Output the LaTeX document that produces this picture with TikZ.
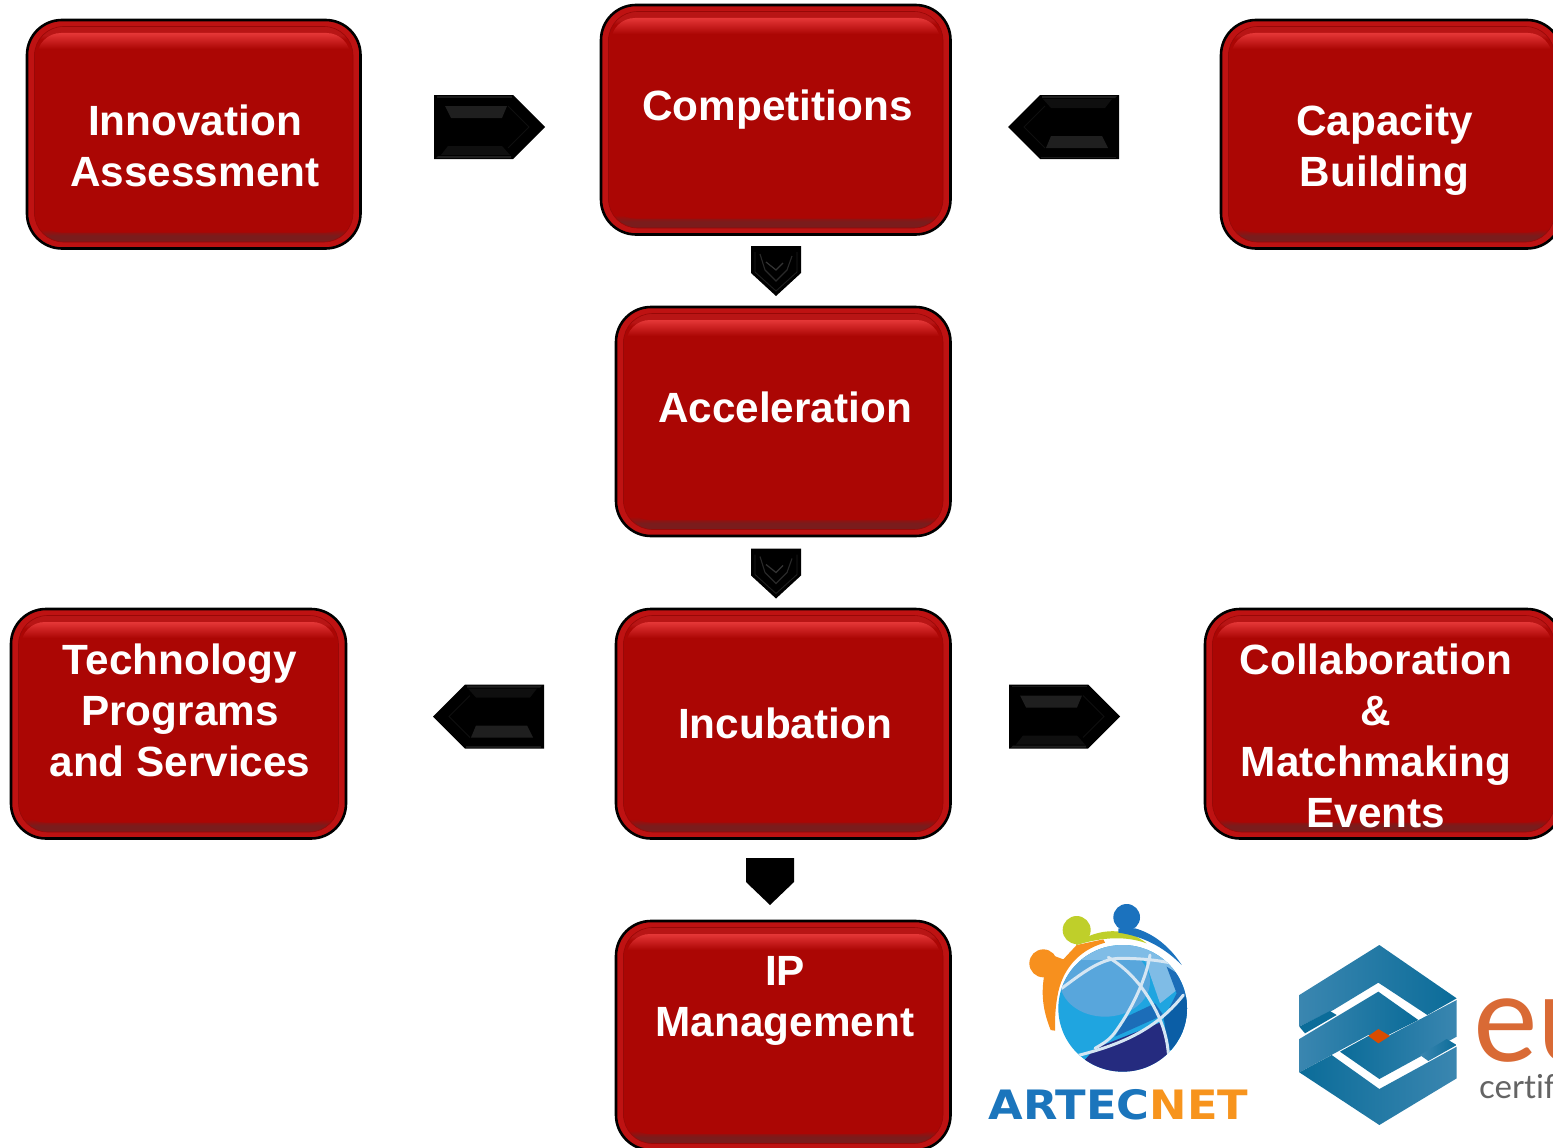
\documentclass[tikz,border=0pt]{standalone}
\usepackage{fontspec}
\setmainfont{Liberation Sans}
\newfontfamily\logofont[Ligatures=NoCommon]{Lato}
\newfontfamily\wideboldfont{DejaVu Sans}
\usetikzlibrary{calc}
\definecolor{bfill}{HTML}{AB0604}
\definecolor{bring}{HTML}{BE1212}
\definecolor{bedge}{HTML}{970807}
\definecolor{bdark}{HTML}{7A1C1C}
\definecolor{bhi}{HTML}{E53737}
\definecolor{bhib}{HTML}{C81E1E}
\definecolor{btop}{HTML}{B81515}
\definecolor{globecyan}{HTML}{1FA5E0}
\definecolor{globesky}{HTML}{58A6DC}
\definecolor{globepale}{HTML}{7FBCE6}
\definecolor{globeblue}{HTML}{1C6DB8}
\definecolor{globedeep}{HTML}{0B5EA6}
\definecolor{globenavy}{HTML}{252B7F}
\definecolor{globeray}{HTML}{D5E6F3}
\definecolor{logoorange}{HTML}{F7901E}
\definecolor{logogreen}{HTML}{BFCF2A}
\definecolor{logoblue}{HTML}{1B72BE}
\pgfdeclareverticalshading{bevelbase}{100bp}{color(0bp)=(bdark);color(25bp)=(bdark);color(26.5bp)=(bdark);color(28bp)=(bfill);color(72bp)=(bfill);color(73bp)=(btop);color(75bp)=(btop);color(100bp)=(btop)}
\pgfdeclareverticalshading{bevelface}{100bp}{color(0bp)=(bfill);color(71bp)=(bfill);color(73bp)=(bhib);color(75bp)=(bhi);color(100bp)=(bhi)}
\tikzset{
  boxouter/.style={draw=black,line width=2.6pt,fill=bring,rounded corners=35pt},
  boxinner/.style={draw=bedge,line width=.6pt,shading=bevelbase,rounded corners=29pt},
  boxface/.style={draw=none,shading=bevelface,rounded corners=24pt},
  boxlabel/.style={text=white,font=\fontsize{42.3}{51}\selectfont\bfseries,align=center,inner sep=0pt,anchor=north},
  facet/.style={fill=#1,draw=none},
  hexpiece/.style={draw=none},
  ray/.style={draw=globeray,line width=3pt,line cap=round}
}
\newcommand{\redbox}[4]{%
  \draw[boxouter] (#1,#2) rectangle (#3,#4);
  \draw[boxinner] ($(#1,#2)+(7.5,6.5)$) rectangle ($(#3,#4)+(-7.5,-6.5)$);
  \path[boxface] ($(#1,#2)+(10,13)$) rectangle ($(#3,#4)+(-10,-16)$);
}
% \boxtext{name}{centre x}{first baseline y}{text}
\newcommand{\boxtext}[4]{%
  \pgfmathsetmacro{\toplabel}{#3-32}
  \node[boxlabel] (#1) at (#2,\toplabel) {\rule{0pt}{32pt}#4};
}
\newcommand{\blockarrow}[3]{%
  \begin{scope}[shift={(#1,#2)},rotate=#3]
    \fill[black] (0,-32) -- (79,-32) -- (111,0) -- (79,32) -- (0,32) -- cycle;
    \fill[facet=black!88!white] (11,-21) -- (73,-21) -- (68,-9) -- (17,-9) -- cycle;
    \fill[facet=black!90!white] (3,-31) -- (78,-31) -- (78,-29.5) -- (3,-29.5) -- cycle;
    \fill[facet=black!94!white] (14,19) -- (68,19) -- (76,28) -- (7,28) -- cycle;
    \fill[facet=black!88!white] (4,29) -- (77,29) -- (77,31) -- (2,31) -- cycle;
    \draw[black!94!white,line width=.8pt] (74,-21) -- (95,0) -- (74,21);
  \end{scope}
}
\newcommand{\downarrowbevel}[2]{%
  \begin{scope}[shift={(#1,#2)}]
    \fill[black] (0,0) -- (50,0) -- (50,27) -- (25,50) -- (0,27) -- cycle;
    \draw[black!88!white,line width=.9pt] (4,6) -- (4,26) -- (25,45) -- (46,26) -- (46,6);
    \draw[black!84!white,line width=1.1pt] (9,8) -- (14,24) -- (25,35) -- (36,24) -- (41,10);
    \draw[black!80!white,line width=1.2pt] (15,16) -- (25,24) -- (32,17);
  \end{scope}
}
\begin{document}
\begin{tikzpicture}[x=1pt,y=-1pt]
\useasboundingbox (0,0) rectangle (1553,1148);
\clip (0,0) rectangle (1553,1148);
\fill[white] (0,0) rectangle (1553,1148);

% boxes
\redbox{27}{20}{360.5}{248.5}
\redbox{601}{5}{950.5}{234.5}
\redbox{1221}{20}{1562}{248.5}
\redbox{616}{307}{950.5}{536}
\redbox{11}{609}{346}{838.5}
\redbox{616}{609}{950.5}{838.5}
\redbox{1205}{609}{1562}{838.5}
\redbox{616}{921}{950.5}{1150}

% labels
\boxtext{innovation}{195}{135}{Innovation\\Assessment}
\boxtext{competitions}{777.5}{120}{Competitions}
\boxtext{capacity}{1384.5}{135}{Capacity\\Building}
\boxtext{acceleration}{785}{422}{Acceleration}
\boxtext{technology}{180}{674}{Technology\\Programs\\and Services}
\boxtext{incubation}{785}{738}{Incubation}
\boxtext{collaboration}{1376}{674}{Collaboration\\\&\\Matchmaking\\Events}
\boxtext{ipmgmt}{785}{985}{IP\\Management}

% arrows
\blockarrow{434}{127}{0}
\blockarrow{1119}{127}{180}
\blockarrow{1009}{716.5}{0}
\blockarrow{544}{716.5}{180}
\downarrowbevel{751}{246}
\downarrowbevel{751}{548.5}
\fill[black] (746,858) -- (794,858) -- (794,882) -- (770,905) -- (746,882) -- cycle;

% ARTECNET logo
\begin{scope}[shift={(1020,900)},x=.33333pt,y=-.33333pt]
  \fill[logoorange] (70,190) circle[radius=42];
  \fill[logoorange] (95,165) -- (130,178) -- (170,135) -- (250,118) -- (255,128) .. controls (175,150) and (125,210) .. (112,290) .. controls (105,330) and (105,360) .. (105,392) -- (92,390) .. controls (72,340) and (62,290) .. (72,230) -- cycle;
  \fill[logogreen] (170,90) circle[radius=42];
  \fill[logogreen] (160,125) -- (215,105) .. controls (270,85) and (330,90) .. (380,130) .. controls (320,108) and (250,110) .. (170,135) -- cycle;
  \fill[logoblue] (320,52) circle[radius=40];
  \fill[logoblue] (295,85) -- (345,85) .. controls (400,100) and (450,140) .. (485,195) .. controls (440,150) and (380,110) .. (295,98) -- cycle;
  \begin{scope}
    \clip (308,325) ellipse[x radius=193,y radius=190];
    \fill[globecyan] (100,120) rectangle (520,530);
    \fill[globesky] (255,245) ellipse[x radius=135,y radius=105];
    \fill[globepale] (150,130) rectangle (470,180);
    \fill[globepale] (375,180) -- (470,190) -- (470,270) -- (420,310) -- cycle;
    \fill[globeblue] (440,200) -- (520,250) -- (520,450) -- (430,360) -- (470,280) -- cycle;
    \fill[globedeep] (430,345) -- (520,270) -- (520,450) -- (445,450) -- cycle;
    \fill[globeblue] (285,410) -- (320,350) -- (405,310) -- (430,345) -- cycle;
    \fill[globenavy] (190,485) -- (225,445) -- (420,368) -- (445,440) -- (430,530) -- (200,530) -- cycle;
    \draw[ray] (125,265) .. controls (180,225) and (240,175) .. (300,175) .. controls (360,175) and (420,180) .. (480,195);
    \draw[ray] (265,172) .. controls (320,205) and (360,250) .. (390,300) .. controls (420,350) and (440,400) .. (445,460);
    \draw[ray] (390,165) .. controls (380,230) and (340,320) .. (290,390) .. controls (270,420) and (250,430) .. (225,445);
    \draw[ray] (160,470) .. controls (280,440) and (400,400) .. (490,285);
  \end{scope}
\end{scope}
\node[inner sep=0pt,anchor=base] (artecnet) at (1118.5,1119) {\scalebox{1.105}[1]{\wideboldfont\bfseries\fontsize{40.5}{44}\selectfont\textcolor[HTML]{1B75BC}{ARTEC}\textcolor[HTML]{F7941D}{NET}}};

% eurocert logo
\begin{scope}[shift={(1290,935)},x=.33333pt,y=-.33333pt]
  \definecolor{hexdark}{HTML}{0B6C99}
  \definecolor{hexlight}{HTML}{3A86B0}
  \path[hexpiece,left color=hexlight,right color=hexdark] (268,30) -- (500,190) -- (412,240) -- (265,143) -- (130,225) -- (28,275) -- (28,180) -- cycle;
  \fill[hexdark] (28,275) -- (120,228) -- (140,240) -- (45,295) -- cycle;
  \path[hexpiece,left color=hexlight,right color=hexdark] (28,312) -- (265,170) -- (385,255) -- (295,300) -- (235,300) -- (28,412) -- cycle;
  \path[hexpiece,left color=hexdark,right color=hexlight] (500,195) -- (500,305) -- (268,432) -- (150,350) -- (235,303) -- (295,303) -- cycle;
  \path[hexpiece,left color=hexlight,right color=hexdark] (390,360) -- (470,312) -- (500,330) -- (415,378) -- cycle;
  \path[hexpiece,left color=hexdark,right color=hexlight] (28,412) -- (125,360) -- (268,462) -- (500,335) -- (500,430) -- (268,570) -- cycle;
  \fill[orange!70!red!85!black] (265,282) -- (300,303) -- (265,325) -- (235,303) -- cycle;
\end{scope}
\node[inner sep=0pt,anchor=base west,text={rgb,255:red,217;green,106;blue,53}] (eulogo) at (1473,1061) {\logofont\fontsize{122}{130}\selectfont eu};
\node[inner sep=0pt,anchor=base west,text={rgb,255:red,100;green,100;blue,100}] (certlogo) at (1479,1098) {\logofont\fontsize{33}{36}\selectfont cert\kern0pt i\kern0pt f};
\end{tikzpicture}
\end{document}
